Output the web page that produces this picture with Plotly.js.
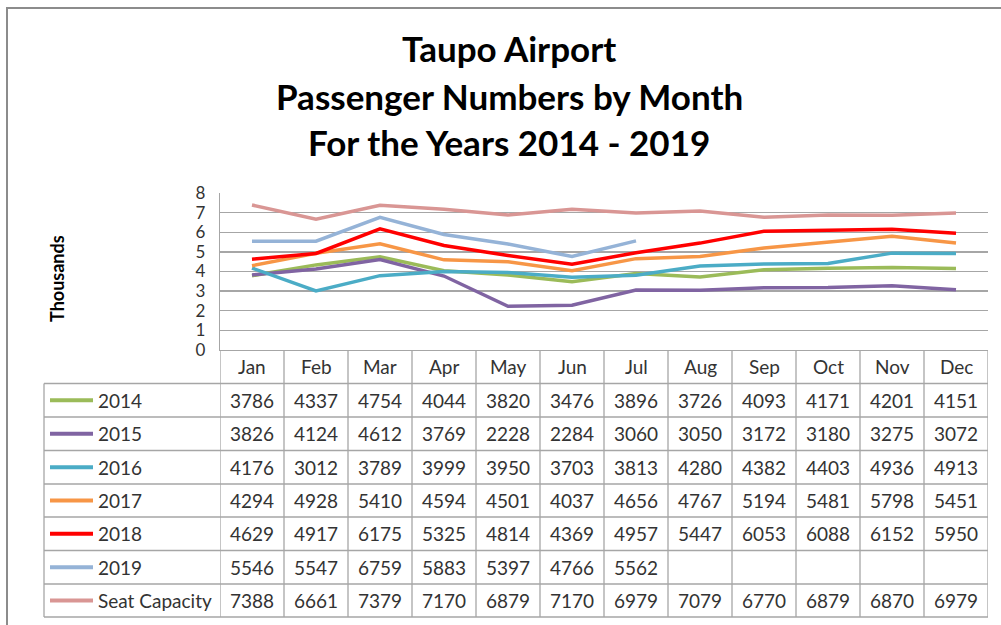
<!DOCTYPE html>
<html>
<head>
<meta charset="utf-8">
<script src="https://cdn.plot.ly/plotly-3.0.1.min.js"></script>
<style>html,body{margin:0;padding:0;background:#fff;}#chart{width:1001px;height:625px;}</style>
</head>
<body>
<div id="chart"></div>
<script>
const months = ["Jan","Feb","Mar","Apr","May","Jun","Jul","Aug","Sep","Oct","Nov","Dec"];
const seriesNames = ["2014","2015","2016","2017","2018","2019","Seat Capacity"];
const v2014 = [3786,4337,4754,4044,3820,3476,3896,3726,4093,4171,4201,4151];
const v2015 = [3826,4124,4612,3769,2228,2284,3060,3050,3172,3180,3275,3072];
const v2016 = [4176,3012,3789,3999,3950,3703,3813,4280,4382,4403,4936,4913];
const v2017 = [4294,4928,5410,4594,4501,4037,4656,4767,5194,5481,5798,5451];
const v2018 = [4629,4917,6175,5325,4814,4369,4957,5447,6053,6088,6152,5950];
const v2019 = [5546,5547,6759,5883,5397,4766,5562,null,null,null,null,null];
const vSeat = [7388,6661,7379,7170,6879,7170,6979,7079,6770,6879,6870,6979];
const seriesValues = [v2014,v2015,v2016,v2017,v2018,v2019,vSeat];
const colors = ["#9BBB59","#8064A2","#4BACC6","#F79646","#FF0000","#95B3D7","#D99694"];
const yTicks = [0,1,2,3,4,5,6,7,8];
const titleLines = ["Taupo Airport","Passenger Numbers by Month","For the Years 2014 - 2019"];

const W = 1001, H = 625;
const py = p => 1 - p / H;
const px = p => p / W;
const FONT = "Lato, 'Open Sans', sans-serif";
const GRID = "#a6a6a6";
const TXT = "#333333";

const xIdx = months.map((m, i) => i);
const traces = seriesValues.map((vals, s) => ({
  type: "scatter", mode: "lines",
  x: xIdx, y: vals.map(v => v == null ? null : v / 1000),
  name: seriesNames[s],
  line: {color: colors[s], width: 3.5},
  connectgaps: false, hoverinfo: "skip"
}));

const plotL = 220, plotR = 988, plotT = 193, plotB = 350;
const tableL = 44;
const rowEdges = [350, 383.5, 417, 450.5, 484, 517, 550.5, 584, 617];

const shapes = [];
const annotations = [];

shapes.push({type:"rect", xref:"paper", yref:"paper", x0:px(7), x1:px(1012), y0:py(640), y1:py(8),
  line:{color:"#8c8c8c", width:2}});

for (let k = 1; k < rowEdges.length; k++) {
  shapes.push({type:"line", xref:"paper", yref:"paper", x0:px(tableL), x1:px(plotR),
    y0:py(rowEdges[k]), y1:py(rowEdges[k]), line:{color:GRID, width:1.3}});
}
for (let i = 0; i <= months.length; i++) {
  shapes.push({type:"line", xref:"x", yref:"paper", x0:i - 0.5, x1:i - 0.5,
    y0:py(rowEdges[0]), y1:py(rowEdges[rowEdges.length-1]), line:{color:GRID, width:1.3}});
}
shapes.push({type:"line", xref:"paper", yref:"paper", x0:px(tableL), x1:px(tableL),
  y0:py(rowEdges[1]), y1:py(rowEdges[rowEdges.length-1]), line:{color:GRID, width:1.3}});

months.forEach((m, i) => {
  annotations.push({xref:"x", yref:"paper", x:i, y:py((rowEdges[0]+rowEdges[1])/2),
    text:m, showarrow:false, xanchor:"center", yanchor:"middle",
    font:{family:FONT, size:19, color:TXT}});
});
seriesNames.forEach((name, s) => {
  const cy = py((rowEdges[s+1] + rowEdges[s+2]) / 2);
  shapes.push({type:"line", xref:"paper", yref:"paper", x0:px(50), x1:px(93), y0:cy, y1:cy,
    line:{color:colors[s], width:4}});
  annotations.push({xref:"paper", yref:"paper", x:px(96), y:cy, text:name, showarrow:false,
    xanchor:"left", yanchor:"middle", font:{family:FONT, size:19, color:TXT}});
  seriesValues[s].forEach((v, i) => {
    if (v == null) return;
    annotations.push({xref:"x", yref:"paper", x:i, y:cy, text:String(v), showarrow:false,
      xanchor:"center", yanchor:"middle", font:{family:FONT, size:19, color:TXT}});
  });
});

const titleY = [48, 96, 142];
titleLines.forEach((t, k) => {
  annotations.push({xref:"paper", yref:"paper", x:px(509), y:py(titleY[k]), text:"<b>"+t+"</b>",
    showarrow:false, xanchor:"center", yanchor:"middle", font:{family:FONT, size:35, color:"#000"}});
});
annotations.push({xref:"paper", yref:"paper", x:px(57), y:py(279), text:"<b>Thousands</b>",
  showarrow:false, textangle:-90, xanchor:"center", yanchor:"middle",
  font:{family:FONT, size:18, color:"#000"}});

const layout = {
  width: W, height: H,
  margin: {l:0, r:0, t:0, b:0},
  paper_bgcolor: "#fff", plot_bgcolor: "#fff",
  showlegend: false,
  xaxis: {domain:[px(plotL), px(plotR)], range:[-0.5, months.length - 0.5],
    showticklabels:false, showgrid:false, zeroline:false, ticks:"",
    showline:true, linecolor:GRID, linewidth:1.3, fixedrange:true},
  yaxis: {domain:[py(plotB), py(plotT)], range:[0, 8], tickvals:yTicks,
    ticktext:yTicks.map(String), showgrid:true, gridcolor:GRID, gridwidth:1.3,
    zeroline:false, showline:true, linecolor:GRID, linewidth:1.3, ticks:"",
    ticklabelstandoff:10,
    tickfont:{family:FONT, size:17, color:TXT}, fixedrange:true},
  shapes: shapes,
  annotations: annotations
};

Plotly.newPlot("chart", traces, layout, {displayModeBar:false, staticPlot:true});
</script>
</body>
</html>
